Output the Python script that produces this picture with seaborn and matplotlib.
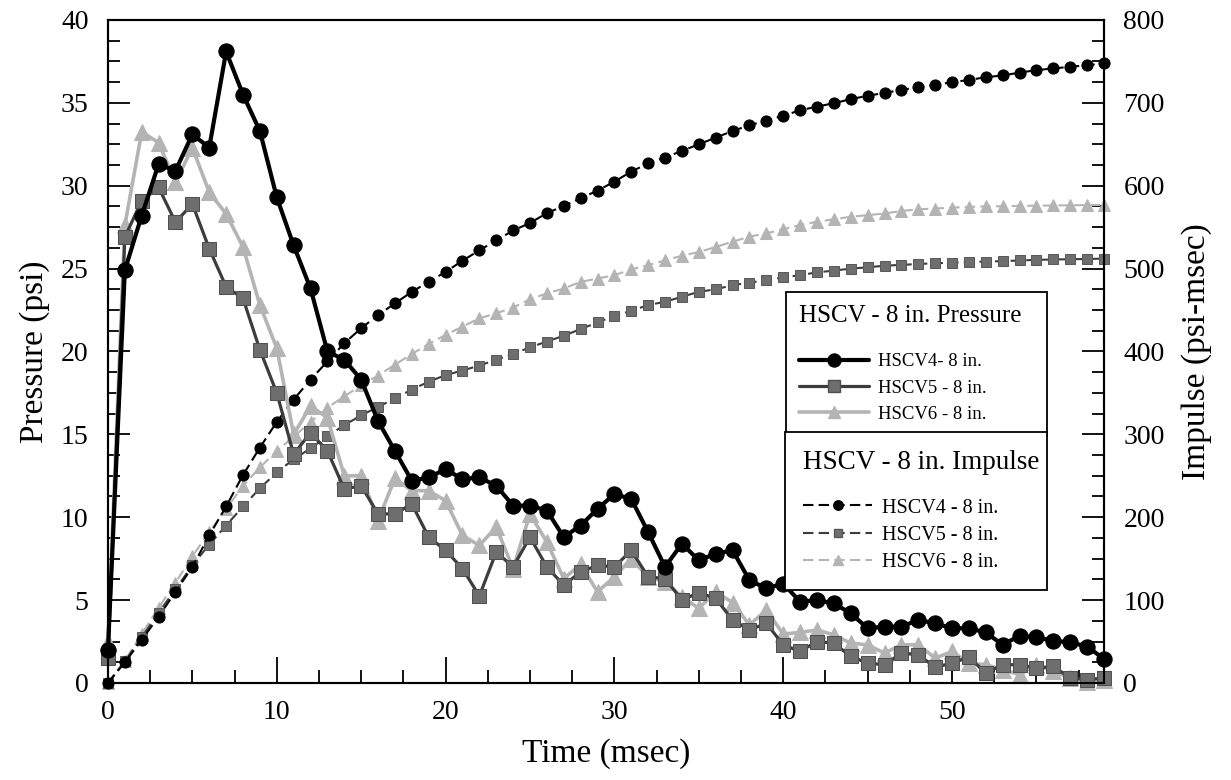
import numpy as np
import pandas as pd
import matplotlib
matplotlib.use("Agg")
import matplotlib.pyplot as plt
import seaborn as sns
from matplotlib.ticker import MultipleLocator
from matplotlib.lines import Line2D

# ---------------- data ----------------
time_ms = np.arange(60)

p_hscv4 = [2.0, 24.9, 28.2, 31.3, 30.9, 33.1, 32.3, 38.1, 35.5, 33.3,
           29.3, 26.4, 23.8, 20.0, 19.5, 18.3, 15.8, 14.0, 12.2, 12.4,
           12.9, 12.3, 12.4, 11.9, 10.7, 10.7, 10.4, 8.8, 9.5, 10.5,
           11.4, 11.1, 9.1, 7.0, 8.4, 7.4, 7.8, 8.0, 6.2, 5.7,
           6.0, 4.9, 5.0, 4.8, 4.2, 3.3, 3.4, 3.4, 3.8, 3.6,
           3.3, 3.3, 3.05, 2.3, 2.85, 2.75, 2.55, 2.45, 2.2, 1.45]
p_hscv5 = [1.5, 26.9, 29.1, 29.9, 27.8, 28.9, 26.2, 23.9, 23.2, 20.1,
           17.5, 13.8, 15.1, 14.0, 11.7, 11.9, 10.2, 10.2, 10.8, 8.8,
           8.0, 6.9, 5.25, 7.9, 7.0, 8.8, 7.0, 5.9, 6.7, 7.1,
           7.0, 8.0, 6.4, 6.3, 5.0, 5.45, 5.1, 3.8, 3.2, 3.6,
           2.3, 1.9, 2.5, 2.4, 1.6, 1.2, 1.1, 1.8, 1.7, 0.95,
           1.2, 1.55, 0.6, 1.1, 1.1, 0.9, 1.0, 0.3, 0.2, 0.3]
p_hscv6 = [2.5, 27.6, 33.25, 32.6, 30.2, 32.3, 29.6, 28.3, 26.3, 22.8,
           20.2, 15.0, 16.7, 16.0, 12.5, 12.5, 9.8, 12.35, 11.6, 11.6,
           11.0, 8.9, 8.3, 9.4, 6.9, 10.2, 8.5, 6.3, 7.15, 5.5,
           6.4, 7.5, 6.4, 6.1, 5.2, 4.5, 5.5, 4.85, 3.5, 4.4,
           2.95, 3.05, 3.2, 2.9, 2.4, 2.3, 1.8, 2.3, 2.3, 1.5,
           1.9, 1.2, 1.1, 0.8, 0.5, 1.1, 0.7, 0.3, 0.05, 0.2]

i_hscv4 = [0, 25, 52, 80, 110, 140, 178, 213, 251, 284,
           315, 342, 366, 388, 410, 428, 444, 458, 472, 484,
           496, 509.5, 522, 534, 546, 555, 567, 575.5, 585, 594,
           605, 617, 627, 634, 642, 650, 658, 666, 673, 678.5,
           684.5, 691, 695.5, 699.5, 704.5, 708.5, 712, 715.5, 719, 721.5,
           725, 727.5, 731, 733, 736.5, 739.5, 741.5, 743.5, 745.5, 747.5]
i_hscv5 = [0, 26, 55, 85, 113, 142, 167, 190, 213, 235,
           254, 270, 283, 298, 311, 323, 333, 343.5, 354, 363.5,
           371.5, 377, 383, 390, 397, 405, 412, 419, 427, 435,
           443, 449, 456, 460, 466, 472, 475, 480, 483, 486,
           489.5, 492, 495.5, 497.5, 500, 501.5, 503.5, 504.5, 505.5, 506.5,
           507, 508, 508.5, 509, 509.8, 510.5, 511, 511.3, 511.6, 512]
i_hscv6 = [0, 27, 59, 91, 121, 153, 182, 210, 238, 260,
           280, 297, 315, 332, 346, 359, 371, 384, 397, 409,
           420, 430, 440, 446, 453, 463, 470, 476, 484, 488,
           492, 499, 504, 510, 515.5, 520, 526, 532.5, 538.5, 542.5,
           547.5, 552.5, 556.5, 559.5, 562.5, 564.5, 566.5, 569.5, 571.5, 572.5,
           573.5, 574.5, 575, 575.3, 575.6, 576, 576.2, 576.4, 576.6, 576.8]

pressure_labels = ["HSCV4- 8 in.", "HSCV5 - 8 in.", "HSCV6 - 8 in."]
impulse_labels = ["HSCV4 - 8 in.", "HSCV5 - 8 in.", "HSCV6 - 8 in."]
pressure_title = "HSCV - 8 in. Pressure"
impulse_title = "HSCV - 8 in. Impulse"
x_label = "Time (msec)"
y_label = "Pressure (psi)"
y2_label = "Impulse (psi-msec)"

df = pd.DataFrame({"time": time_ms,
                   "p4": p_hscv4, "p5": p_hscv5, "p6": p_hscv6,
                   "i4": i_hscv4, "i5": i_hscv5, "i6": i_hscv6})

# ---------------- style ----------------
sns.set_style("ticks")
plt.rcParams["font.family"] = ["Liberation Serif", "DejaVu Serif"]
plt.rcParams["axes.edgecolor"] = "black"
plt.rcParams["axes.linewidth"] = 1.5
plt.rcParams["text.color"] = "black"
plt.rcParams["axes.labelcolor"] = "black"
plt.rcParams["xtick.color"] = "black"
plt.rcParams["ytick.color"] = "black"

fig = plt.figure(figsize=(12.31, 7.80), dpi=100)
ax = fig.add_axes([0.0877, 0.1244, 0.8091, 0.8500])
ax2 = ax.twinx()

BLACK = "#000000"
DGRAY_L = "#3c3c3c"
DGRAY_M = "#6e6e6e"
LGRAY = "#b4b4b4"

# pressure (solid)
pstyles = [
    dict(y="p4", color=BLACK, lw=3.0, marker="o", ms=11, mfc=BLACK, mec=BLACK),
    dict(y="p5", color=DGRAY_L, lw=2.3, marker="s", ms=10, mfc=DGRAY_M, mec="#505050"),
    dict(y="p6", color=LGRAY, lw=2.6, marker="^", ms=11, mfc=LGRAY, mec=LGRAY),
]
# impulse (dashed)
dash = (0, (5, 2.5))
istyles = [
    dict(y="i4", color=BLACK, lw=1.5, marker="o", ms=8, mfc=BLACK, mec=BLACK),
    dict(y="i5", color=DGRAY_L, lw=1.5, marker="s", ms=7.5, mfc=DGRAY_M, mec="#5a5a5a"),
    dict(y="i6", color=LGRAY, lw=1.5, marker="^", ms=8.5, mfc=LGRAY, mec=LGRAY),
]

for st in reversed(istyles):
    st = dict(st)
    y = st.pop("y")
    sns.lineplot(data=df, x="time", y=y, ax=ax2, legend=False, estimator=None,
                 linestyle=dash, clip_on=False, **st)
for st in reversed(pstyles):
    st = dict(st)
    y = st.pop("y")
    sns.lineplot(data=df, x="time", y=y, ax=ax, legend=False, estimator=None,
                 linestyle="-", clip_on=False, **st)

ax.set_zorder(2)
ax.patch.set_visible(False)
ax2.set_zorder(1)

ax.set_xlim(0, 59)
ax.set_ylim(0, 40)
ax2.set_ylim(0, 800)

ax.xaxis.set_major_locator(MultipleLocator(10))
ax.xaxis.set_minor_locator(MultipleLocator(2.5))
ax.yaxis.set_major_locator(MultipleLocator(5))
ax.yaxis.set_minor_locator(MultipleLocator(1.25))
ax2.yaxis.set_major_locator(MultipleLocator(100))
ax2.yaxis.set_minor_locator(MultipleLocator(25))

ax.tick_params(axis="x", which="major", direction="in", length=19, width=1.3,
               pad=12, labelsize=20, top=False)
ax.tick_params(axis="x", which="minor", direction="in", length=9.5, width=1.3, top=False)
ax.tick_params(axis="y", which="major", direction="in", length=16, width=1.3,
               pad=14, labelsize=20, right=False)
ax.tick_params(axis="y", which="minor", direction="in", length=8.5, width=1.3, right=False)
ax2.tick_params(axis="y", which="major", direction="in", length=16, width=1.3,
                pad=14, labelsize=20, left=False)
ax2.tick_params(axis="y", which="minor", direction="in", length=8.5, width=1.3, left=False)

ax.set_xlabel(x_label, fontsize=24, labelpad=10)
ax.set_ylabel(y_label, fontsize=24, labelpad=8)
ax2.set_ylabel(y2_label, fontsize=24, labelpad=12)

for a in (ax, ax2):
    for s in a.spines.values():
        s.set_linewidth(1.5)
        s.set_color("black")

# ---------------- legends ----------------
def handle(st, ls):
    return Line2D([], [], color=st["color"], lw=st["lw"], marker=st["marker"],
                  ms=st["ms"] * 0.85, mfc=st["mfc"], mec=st["mec"], linestyle=ls)

leg_kw = dict(loc="upper left", mode="expand", frameon=True, fancybox=False,
              edgecolor="black", framealpha=1, borderaxespad=0, alignment="left",
              handletextpad=0.5)

leg1 = ax.legend(handles=[handle(s, "-") for s in pstyles], labels=pressure_labels,
                 title=pressure_title, bbox_to_anchor=(0.681, 0.379, 0.262, 0.211),
                 fontsize=13.5, title_fontsize=18, handlelength=3.7,
                 labelspacing=0.49, borderpad=0.7, **leg_kw)
leg1.get_frame().set_linewidth(1.3)
leg1.set_zorder(10)
leg1._legend_box.sep = 19
ax.add_artist(leg1)

leg2 = ax.legend(handles=[handle(s, dash) for s in istyles], labels=impulse_labels,
                 title=impulse_title, bbox_to_anchor=(0.680, 0.151, 0.263, 0.228),
                 fontsize=14.5, title_fontsize=19.5, handlelength=3.4,
                 labelspacing=0.4, borderpad=0.9, **leg_kw)
leg2.get_frame().set_linewidth(1.3)
leg2.set_zorder(11)
leg2._legend_box.sep = 17

fig.savefig("out.png", dpi=100)
